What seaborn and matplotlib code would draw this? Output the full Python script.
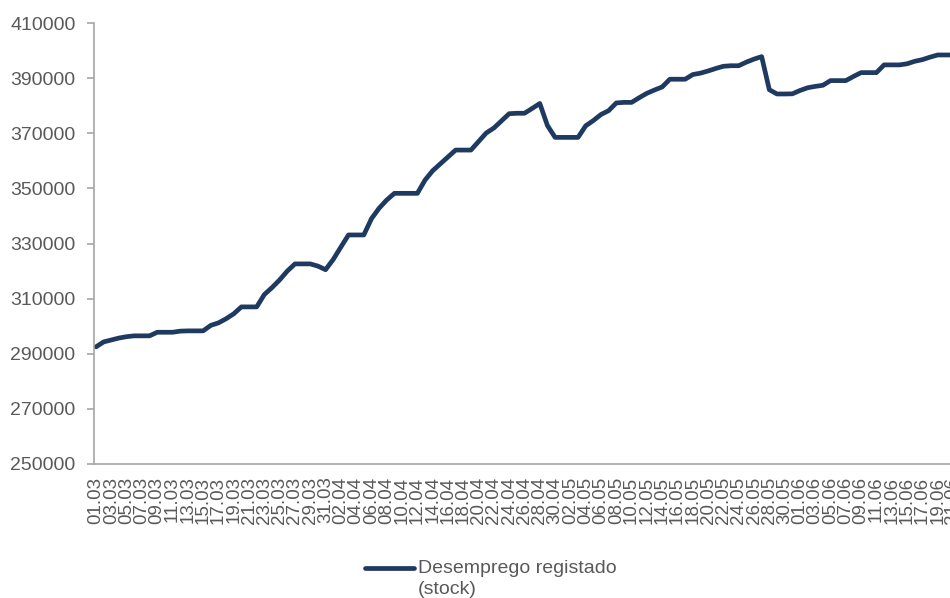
import matplotlib
matplotlib.use("Agg")
import matplotlib.pyplot as plt
import seaborn as sns
import pandas as pd

# Daily registered unemployment (stock), 01.03 to 21.06
dates = pd.date_range("2020-03-01", "2020-06-21", freq="D")
date_labels = list(dates.strftime("%d.%m"))

stock = [
    292500, 294300, 295000, 295700, 296200, 296500, 296500, 296500,
    297800, 297800, 297800, 298200, 298300, 298300, 298300,
    300300, 301200, 302700, 304500, 307000, 307000, 307000,
    311500, 314000, 316800, 320000, 322600, 322600, 322600,
    321800, 320500, 324200, 328700, 333100, 333100, 333100,
    339000, 342800, 345800, 348200, 348200, 348200, 348200,
    353000, 356400, 358900, 361400, 363900, 363900, 363900,
    367000, 370100, 371900, 374500, 377100, 377250, 377250,
    379000, 380800, 372800, 368500, 368500, 368500, 368500,
    372700, 374600, 376800, 378200, 381000, 381200, 381200,
    382900, 384500, 385700, 386800, 389600, 389600, 389600,
    391300, 391800, 392600, 393500, 394300, 394500, 394500,
    395800, 396900, 397800, 385800, 384250, 384250, 384300,
    385500, 386500, 387000, 387400, 389100, 389100, 389100,
    390600, 392000, 392000, 392000, 394800, 394800, 394800,
    395200, 396100, 396700, 397600, 398400, 398400, 398400,
]

series_name = "Desemprego registado\n(stock)"
y_ticks = list(range(250000, 410001, 20000))

LINE = "#1F3A60"
TEXT = "#595959"
AXIS = "#A6A6A6"

sns.set_theme(style="white")
plt.rcParams["font.family"] = ["Liberation Sans", "DejaVu Sans"]

df = pd.DataFrame({"pos": range(len(stock)), "stock": stock})

fig = plt.figure(figsize=(9.5, 5.98), dpi=100)
ax = fig.add_axes([93.5 / 950, 134 / 598, (956 - 93.5) / 950, 441 / 598])

sns.lineplot(data=df, x="pos", y="stock", ax=ax, color=LINE, linewidth=3.4,
             label=series_name, solid_joinstyle="round")

ax.set_xlim(-0.33, 112.4)
ax.set_ylim(250000, 410000)
ax.set_yticks(y_ticks)
ax.set_yticklabels([str(v) for v in y_ticks])

tick_pos = list(range(0, len(date_labels), 2))
ax.set_xticks(tick_pos)
ax.set_xticklabels([date_labels[i] for i in tick_pos], rotation=90)

ax.set_xlabel("")
ax.set_ylabel("")

for side in ("top", "right"):
    ax.spines[side].set_visible(False)
for side in ("left", "bottom"):
    ax.spines[side].set_color(AXIS)
    ax.spines[side].set_linewidth(1.2)

ax.tick_params(axis="y", length=5, width=1.2, color=AXIS, pad=8,
               labelsize=14, labelcolor=TEXT, left=True)
ax.tick_params(axis="x", length=0, pad=9, labelsize=13.5, labelcolor=TEXT)
ax.grid(False)

leg = ax.legend(loc="upper left", bbox_to_anchor=(365 / 950, 38 / 598),
                bbox_transform=fig.transFigure, frameon=False,
                fontsize=14, handlelength=2.5, handletextpad=0.2,
                borderaxespad=0, borderpad=0)
for t in leg.get_texts():
    t.set_color(TEXT)
    t.set_linespacing(1.32)

# keep the legend key level with the first line of its two-line label
for h in leg.legend_handles:
    yd = h.get_ydata()
    h.set_ydata([v + 8 for v in yd])

fig.savefig("out.png", dpi=100)
